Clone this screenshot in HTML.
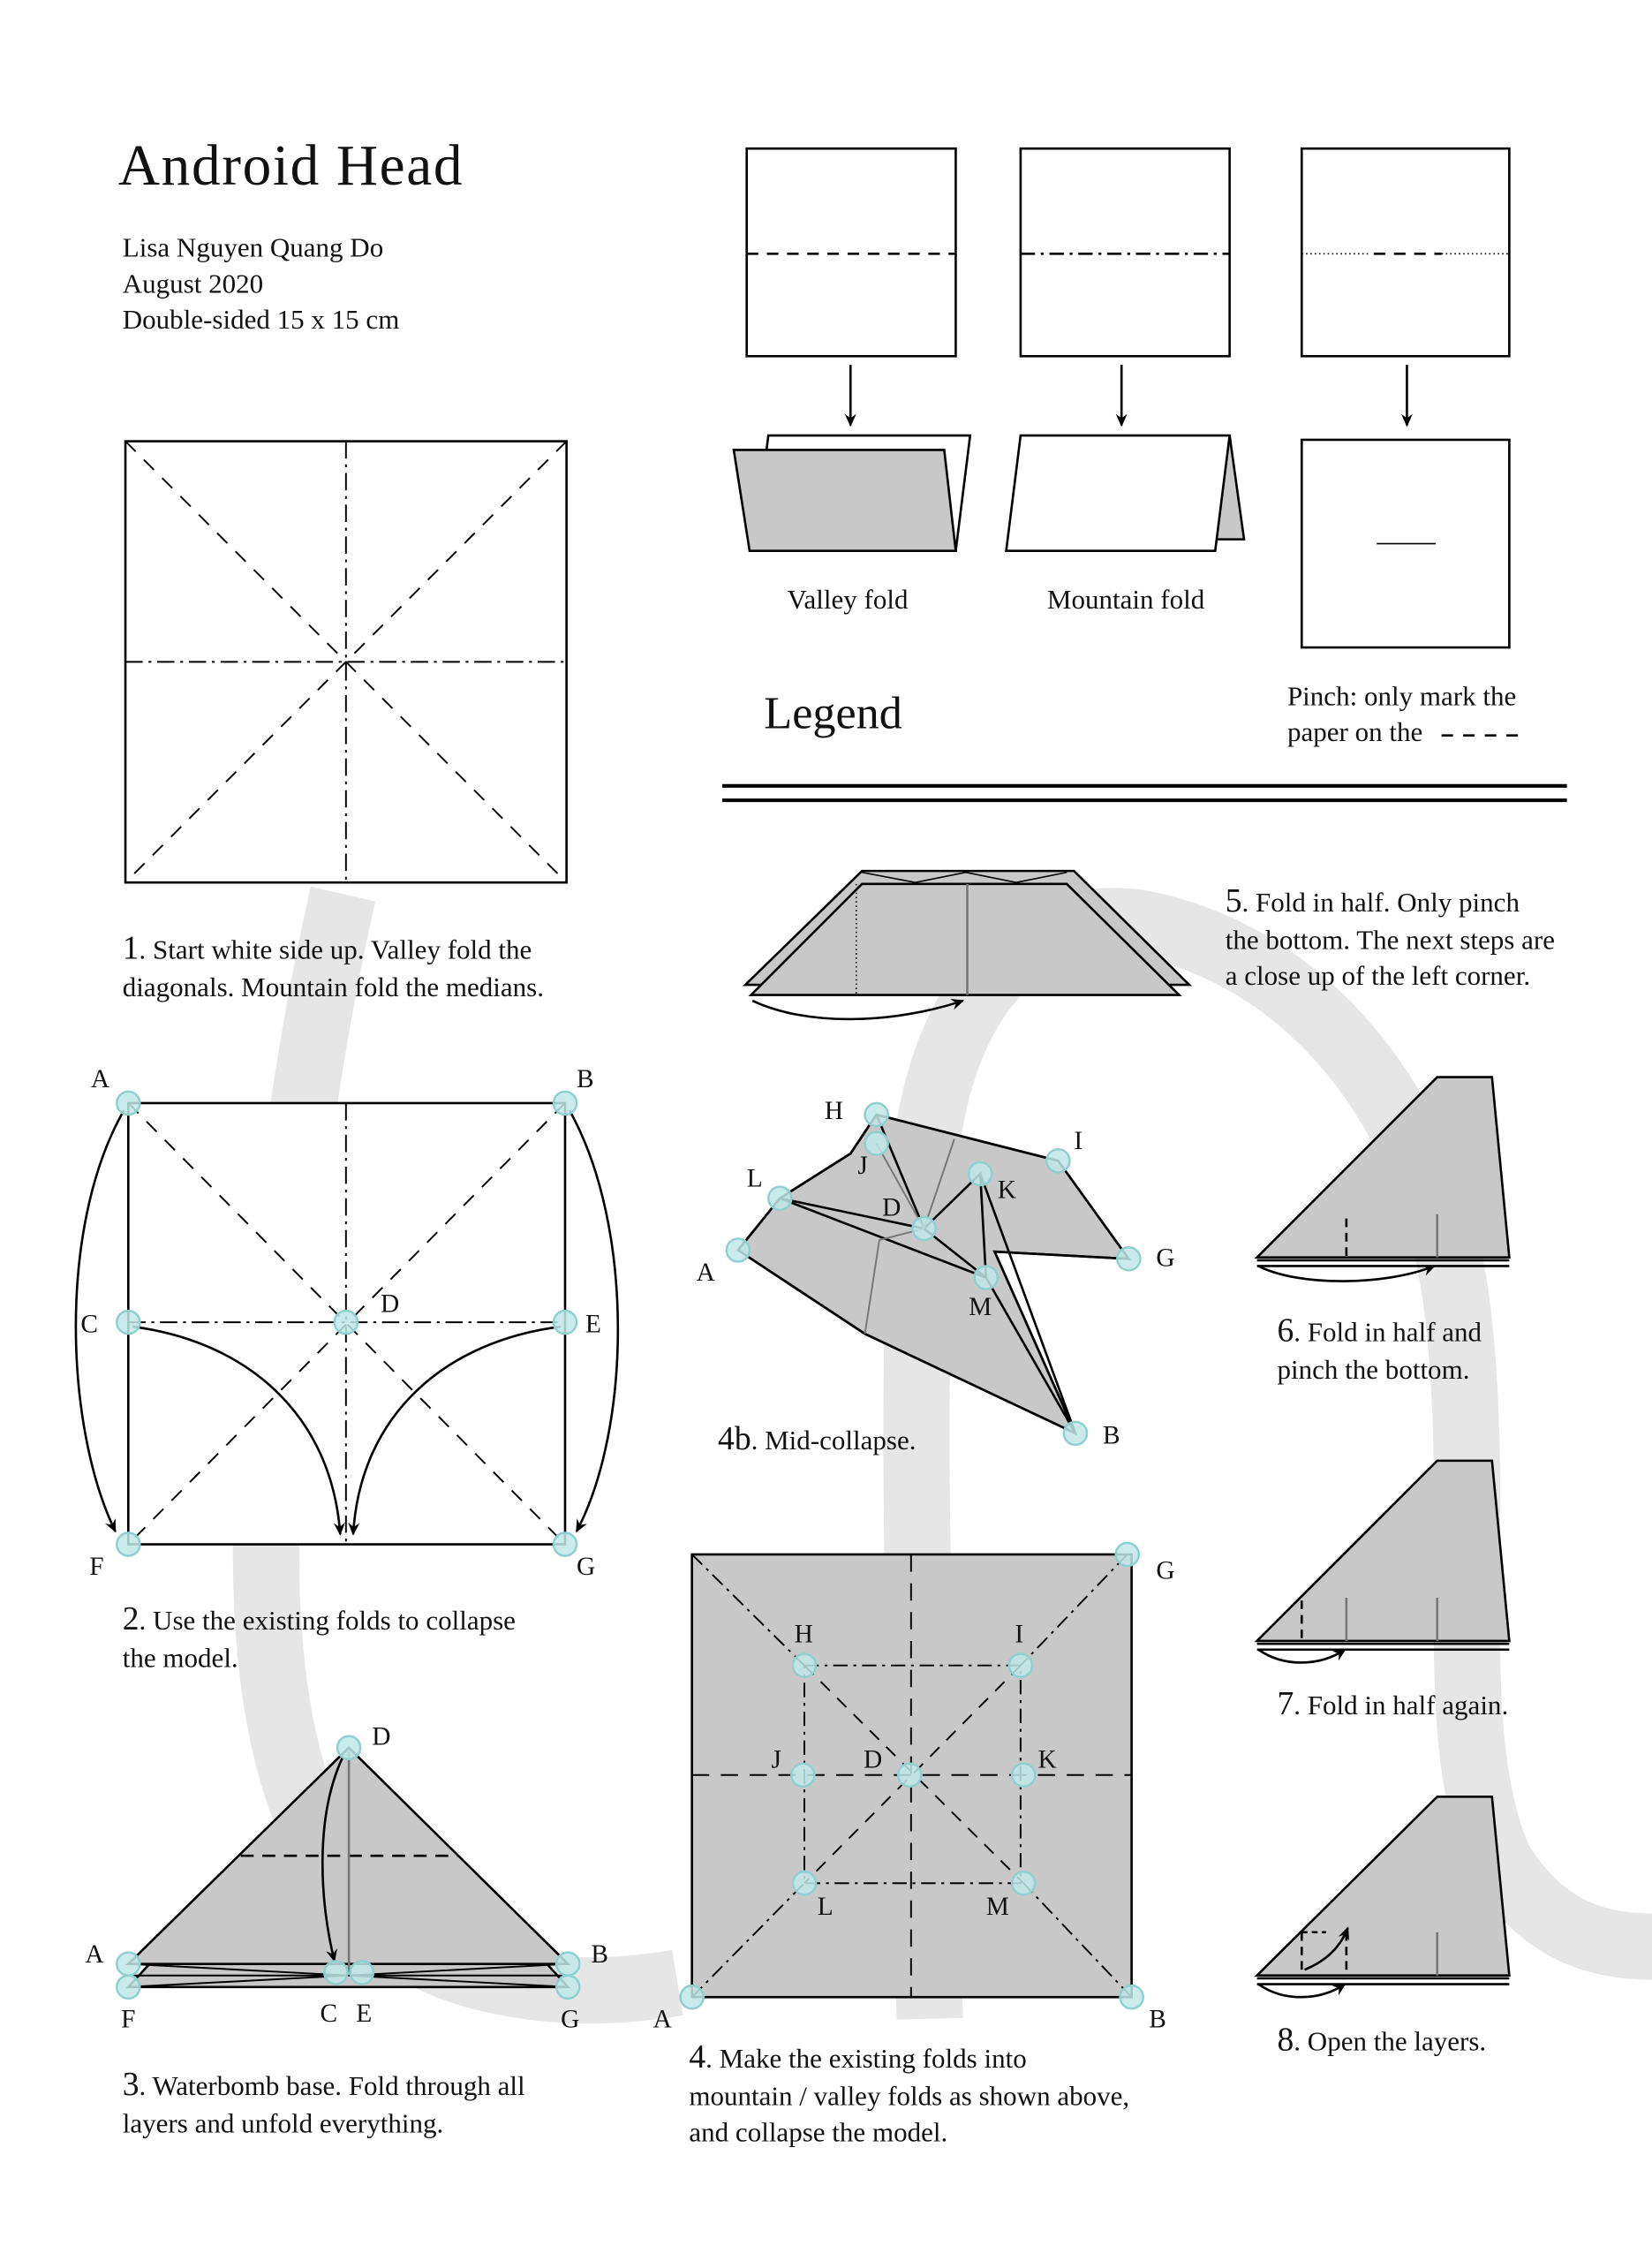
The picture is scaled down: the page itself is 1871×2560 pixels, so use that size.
<!DOCTYPE html>
<html><head><meta charset="utf-8"><style>
html,body{margin:0;padding:0;background:#fff}
svg{display:block}
text{font-family:"Liberation Serif",serif;fill:#111}
</style></head><body>
<svg width="1871" height="2560" viewBox="0 0 1146 1568" xmlns="http://www.w3.org/2000/svg">
<defs>
<marker id="ah" markerWidth="10" markerHeight="10" refX="8" refY="5" orient="auto" markerUnits="userSpaceOnUse"><path d="M0,1 L9,5 L0,9 L3,5 Z" fill="#000"/></marker>
</defs>
<g fill="none" stroke="#e6e6e6" stroke-width="46" stroke-linecap="butt">
<path d="M238,620 C215,720 190,880 185,1050 C180,1220 220,1340 330,1370 C390,1386 440,1380 470,1375"/>
<path d="M645,1400 C640,1200 630,1000 640,820 C650,680 720,630 790,640 C900,660 990,760 1010,900 C1030,1050 1000,1200 1040,1290 C1070,1340 1110,1350 1146,1350"/>
</g>
<g stroke="#000" fill="none" stroke-width="1.6">
<rect x="518" y="103" width="145" height="144" fill="#fff"/>
<rect x="708" y="103" width="145" height="144" fill="#fff"/>
<rect x="903" y="103" width="144" height="144" fill="#fff"/>
<line x1="518" y1="176" x2="663" y2="176" stroke-dasharray="8,6"/>
<line x1="708" y1="176" x2="853" y2="176" stroke-dasharray="10,4,2,4"/>
<line x1="903" y1="176" x2="950" y2="176" stroke-dasharray="1,2" stroke-width="1"/>
<line x1="953" y1="176" x2="1000" y2="176" stroke-dasharray="8,6"/>
<line x1="1000" y1="176" x2="1047" y2="176" stroke-dasharray="1,2" stroke-width="1"/>
<line x1="590" y1="253" x2="590" y2="295" marker-end="url(#ah)"/>
<line x1="778" y1="253" x2="778" y2="295" marker-end="url(#ah)"/>
<line x1="976" y1="253" x2="976" y2="295" marker-end="url(#ah)"/>
<polygon points="533,302 673,302 663,382 523,382" fill="#fff"/>
<polygon points="509,312 655,312 663,382 520,382" fill="#c8c8c8"/>
<polygon points="853,302 863,374 843,374" fill="#c8c8c8"/>
<polygon points="708,302 853,302 843,382 698,382" fill="#fff"/>
<rect x="903" y="305" width="144" height="144" fill="#fff"/>
<line x1="955" y1="377" x2="996" y2="377" stroke-width="1"/>
<line x1="1000" y1="510" x2="1058" y2="510" stroke-dasharray="8,7"/>
<line x1="501" y1="545" x2="1087" y2="545" stroke-width="2.5"/>
<line x1="501" y1="555" x2="1087" y2="555" stroke-width="2.5"/>
<rect x="87" y="306" width="306" height="306" fill="#fff"/>
<g stroke-width="1.2">
<line x1="87" y1="306" x2="393" y2="612" stroke-dasharray="10,8"/>
<line x1="393" y1="306" x2="87" y2="612" stroke-dasharray="10,8"/>
<line x1="240" y1="306" x2="240" y2="612" stroke-dasharray="12,4,2,4"/>
<line x1="87" y1="459" x2="393" y2="459" stroke-dasharray="12,4,2,4"/>
</g>
<rect x="89" y="765" width="303" height="306" fill="#fff"/>
<g stroke-width="1.2">
<line x1="89" y1="765" x2="392" y2="1071" stroke-dasharray="10,8"/>
<line x1="392" y1="765" x2="89" y2="1071" stroke-dasharray="10,8"/>
<line x1="240" y1="765" x2="240" y2="1071" stroke-dasharray="12,4,2,4"/>
<line x1="89" y1="917" x2="392" y2="917" stroke-dasharray="12,4,2,4"/>
</g>
<path d="M86,770 C40,850 45,990 80,1062" marker-end="url(#ah)"/>
<path d="M395,770 C440,850 438,990 400,1062" marker-end="url(#ah)"/>
<path d="M92,920 C170,930 230,980 236,1064" marker-end="url(#ah)"/>
<path d="M389,920 C310,930 250,980 245,1064" marker-end="url(#ah)"/>
<polygon points="89,1378 242,1212 394,1378" fill="#c8c8c8"/>
<polygon points="89,1362 242,1212 394,1362" fill="#c8c8c8"/>
<path d="M89,1362 L394,1378 M89,1378 L394,1362 M89,1370 L394,1370" stroke-width="1.2"/>
<line x1="167" y1="1287" x2="318" y2="1287" stroke-dasharray="9,6"/>
<line x1="242" y1="1215" x2="242" y2="1368" stroke="#777"/>
<path d="M238,1218 C218,1260 222,1320 232,1360" marker-end="url(#ah)"/>
<rect x="480" y="1078" width="305" height="307" fill="#c8c8c8"/>
<g stroke-width="1.2">
<path d="M480,1078 L558,1155 M782,1078 L708,1155 M480,1385 L558,1306 M785,1385 L710,1306" stroke-dasharray="10,4,2,4"/>
<path d="M558,1155 H708 V1306 H558 Z" stroke-dasharray="10,4,2,4"/>
<path d="M558,1155 L710,1306 M708,1155 L558,1306" stroke-dasharray="9,7"/>
<line x1="632" y1="1078" x2="632" y2="1385" stroke-dasharray="12,8"/>
<line x1="480" y1="1231" x2="785" y2="1231" stroke-dasharray="12,8"/>
</g>
<polygon points="608,773 734,805 783,873 690,868 746,994 600,925 512,867 541,831 590,800" fill="#c8c8c8"/>
<path d="M608,773 L734,805 L783,873 L690,868 L746,994 L600,925 L512,867 L541,831 L590,800 L608,773"/>
<path d="M541,831 L641,852 L684,886 L746,994 M541,831 L684,886 M608,773 L641,852 L680,814 L684,886 M680,814 L746,994"/>
<path d="M608,793 L641,852 M641,852 L662,790 M600,925 L610,860 L641,852" stroke="#777" stroke-width="1.2"/>
<polygon points="598,604 745,604 825,683 517,683" fill="#c8c8c8"/>
<polygon points="598,613 740,613 818,690 521,690" fill="#c8c8c8"/>
<path d="M598,605 L635,612 L670,605 L705,612 L740,605" stroke-width="1"/>
<line x1="594" y1="613" x2="594" y2="690" stroke-dasharray="1,2" stroke-width="1"/>
<line x1="671" y1="613" x2="671" y2="690" stroke="#777"/>
<path d="M522,694 C560,712 620,710 668,694" marker-end="url(#ah)"/>
<polygon points="872,872 997,747 1035,747 1047,872" fill="#c8c8c8"/>
<path d="M872,874 H1047 M872,878 H1047"/>
<line x1="934" y1="845" x2="934" y2="872" stroke-dasharray="6,4"/>
<line x1="997" y1="842" x2="997" y2="872" stroke="#777"/>
<path d="M873,878 C900,892 960,892 995,878" marker-end="url(#ah)"/>
<polygon points="872,1138 997,1013 1035,1013 1047,1138" fill="#c8c8c8"/>
<path d="M872,1140 H1047 M872,1144 H1047"/>
<line x1="903" y1="1110" x2="903" y2="1138" stroke-dasharray="6,4"/>
<line x1="934" y1="1108" x2="934" y2="1138" stroke="#777"/>
<line x1="997" y1="1108" x2="997" y2="1138" stroke="#777"/>
<path d="M873,1144 C890,1156 915,1156 933,1144" marker-end="url(#ah)"/>
<polygon points="872,1370 997,1246 1035,1246 1047,1370" fill="#c8c8c8"/>
<path d="M872,1372 H1047 M872,1376 H1047"/>
<line x1="903" y1="1340" x2="903" y2="1370" stroke-dasharray="6,4"/>
<line x1="934" y1="1340" x2="934" y2="1370" stroke-dasharray="6,4"/>
<line x1="903" y1="1340" x2="920" y2="1340" stroke-dasharray="4,3"/>
<line x1="997" y1="1340" x2="997" y2="1370" stroke="#777"/>
<path d="M905,1366 C920,1360 930,1350 935,1337" marker-end="url(#ah)"/>
<path d="M873,1376 C890,1388 915,1388 933,1376" marker-end="url(#ah)"/>
</g>
<g fill="#bfe8e8" stroke="#8fcfcf" stroke-width="1.5" fill-opacity="0.85">
<circle cx="89" cy="765" r="8"/><circle cx="392" cy="765" r="8"/><circle cx="89" cy="917" r="8"/><circle cx="392" cy="917" r="8"/><circle cx="240" cy="917" r="8"/><circle cx="89" cy="1071" r="8"/><circle cx="392" cy="1071" r="8"/>
<circle cx="242" cy="1212" r="8"/><circle cx="89" cy="1362" r="8"/><circle cx="89" cy="1378" r="8"/><circle cx="394" cy="1362" r="8"/><circle cx="394" cy="1378" r="8"/><circle cx="233" cy="1368" r="8"/><circle cx="251" cy="1368" r="8"/>
<circle cx="558" cy="1155" r="8"/><circle cx="708" cy="1155" r="8"/><circle cx="557" cy="1231" r="8"/><circle cx="710" cy="1231" r="8"/><circle cx="631" cy="1231" r="8"/><circle cx="558" cy="1306" r="8"/><circle cx="710" cy="1306" r="8"/><circle cx="480" cy="1385" r="8"/><circle cx="785" cy="1385" r="8"/><circle cx="782" cy="1078" r="8"/>
<circle cx="608" cy="773" r="8"/><circle cx="608" cy="793" r="8"/><circle cx="734" cy="805" r="8"/><circle cx="541" cy="831" r="8"/><circle cx="512" cy="867" r="8"/><circle cx="641" cy="852" r="8"/><circle cx="680" cy="814" r="8"/><circle cx="684" cy="886" r="8"/><circle cx="783" cy="873" r="8"/><circle cx="746" cy="994" r="8"/>
</g>
<text x="82" y="128" font-size="40" letter-spacing="1">Android Head</text>
<g font-size="19">
<text x="85" y="178">Lisa Nguyen Quang Do</text>
<text x="85" y="203">August 2020</text>
<text x="85" y="228">Double-sided 15 x 15 cm</text>
<text x="588" y="422" text-anchor="middle">Valley fold</text>
<text x="781" y="422" text-anchor="middle">Mountain fold</text>
<text x="893" y="489">Pinch: only mark the</text>
<text x="893" y="514">paper on the</text>
<text x="85" y="665"><tspan font-size="23">1</tspan>. Start white side up. Valley fold the</text>
<text x="85" y="691">diagonals. Mountain fold the medians.</text>
<text x="85" y="1130"><tspan font-size="23">2</tspan>. Use the existing folds to collapse</text>
<text x="85" y="1156">the model.</text>
<text x="85" y="1453"><tspan font-size="23">3</tspan>. Waterbomb base. Fold through all</text>
<text x="85" y="1479">layers and unfold everything.</text>
<text x="478" y="1434"><tspan font-size="23">4</tspan>. Make the existing folds into</text>
<text x="478" y="1460">mountain / valley folds as shown above,</text>
<text x="478" y="1485">and collapse the model.</text>
<text x="498" y="1005"><tspan font-size="23">4b</tspan>. Mid-collapse.</text>
<text x="850" y="632"><tspan font-size="23">5</tspan>. Fold in half. Only pinch</text>
<text x="850" y="658">the bottom. The next steps are</text>
<text x="850" y="683">a close up of the left corner.</text>
<text x="886" y="930"><tspan font-size="23">6</tspan>. Fold in half and</text>
<text x="886" y="956">pinch the bottom.</text>
<text x="886" y="1189"><tspan font-size="23">7</tspan>. Fold in half again.</text>
<text x="886" y="1422"><tspan font-size="23">8</tspan>. Open the layers.</text>
</g>
<text x="530" y="505" font-size="32">Legend</text>
<g font-size="18">
<text x="63" y="754">A</text><text x="400" y="754">B</text><text x="56" y="924">C</text><text x="406" y="924">E</text><text x="264" y="910">D</text><text x="62" y="1092">F</text><text x="400" y="1092">G</text>
<text x="258" y="1210">D</text><text x="59" y="1361">A</text><text x="84" y="1406">F</text><text x="222" y="1402">C</text><text x="247" y="1402">E</text><text x="410" y="1361">B</text><text x="389" y="1406">G</text>
<text x="551" y="1139">H</text><text x="704" y="1139">I</text><text x="535" y="1226">J</text><text x="599" y="1226">D</text><text x="720" y="1226">K</text><text x="567" y="1328">L</text><text x="684" y="1328">M</text><text x="453" y="1406">A</text><text x="797" y="1406">B</text><text x="802" y="1095">G</text>
<text x="572" y="776">H</text><text x="595" y="814">J</text><text x="745" y="797">I</text><text x="518" y="823">L</text><text x="483" y="888">A</text><text x="612" y="843">D</text><text x="692" y="831">K</text><text x="672" y="912">M</text><text x="802" y="878">G</text><text x="765" y="1001">B</text>
</g>
</svg>
</body></html>
